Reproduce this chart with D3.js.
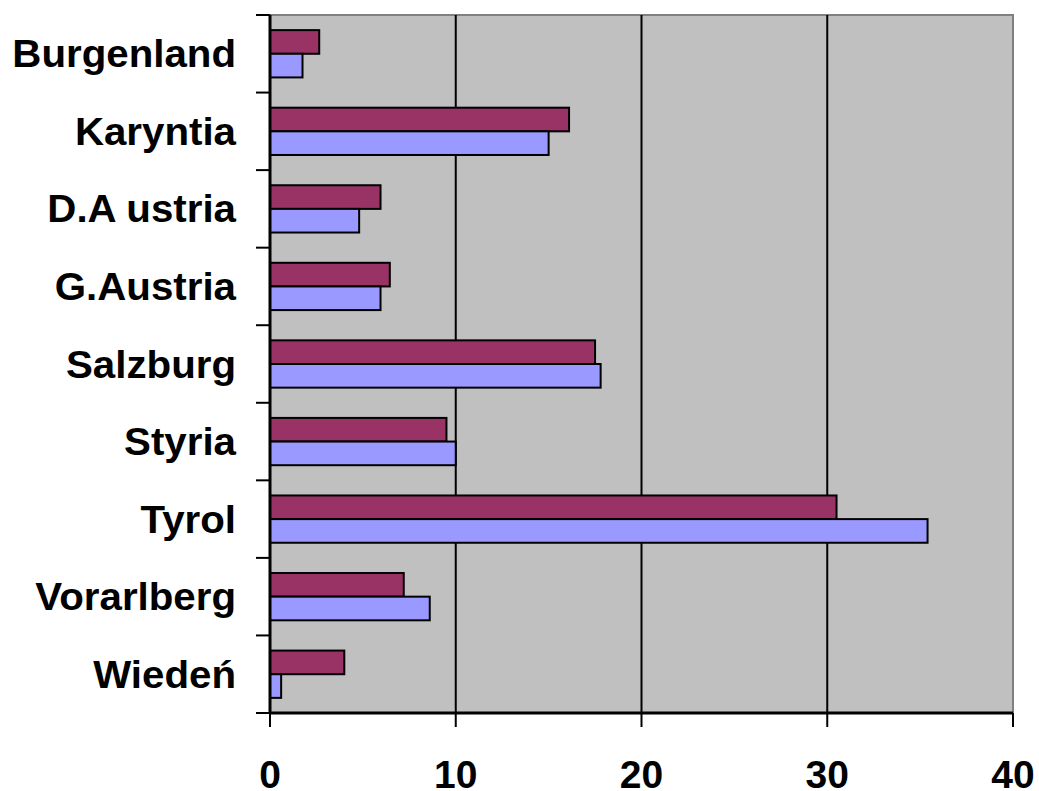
<!DOCTYPE html>
<html>
<head>
<meta charset="utf-8">
<script src="https://cdn.jsdelivr.net/npm/d3@7"></script>
<style>
  body { margin: 0; background: #fff; overflow: hidden; }
  svg { display: block; }
</style>
</head>
<body>
<div class="draw-area"></div>
<script>
// Chart data
const regions = ["Burgenland", "Karyntia", "D.A ustria", "G.Austria", "Salzburg", "Styria", "Tyrol", "Vorarlberg", "Wiedeń"];
const seriesA = [2.65, 16.1, 5.95, 6.45, 17.5, 9.5, 30.5, 7.2, 4.0];   // maroon, upper bar
const seriesB = [1.75, 15.0, 4.8, 5.95, 17.8, 10.0, 35.4, 8.6, 0.6];    // lavender, lower bar
const xTicks = [0, 10, 20, 30, 40];

const width = 1039, height = 791;
const plot = { left: 270, right: 1013, top: 15, bottom: 713 };
const labelRight = 236;

const svg = d3.select(".draw-area")
    .append("svg")
    .attr("width", width)
    .attr("height", height);

// Scales
const x = d3.scaleLinear().domain([0, 40]).range([plot.left, plot.right]);
const y = d3.scaleBand().domain(regions).range([plot.top, plot.bottom]);
const inner = d3.scaleBand().domain(["a", "b"]).range([0, y.bandwidth()]).paddingOuter(0.64).paddingInner(0);

// Plot background
svg.append("rect")
    .attr("x", plot.left).attr("y", plot.top)
    .attr("width", plot.right - plot.left).attr("height", plot.bottom - plot.top)
    .attr("fill", "#c0c0c0");

// Top and right border (gray)
svg.append("path")
    .attr("d", `M${plot.left},${plot.top}H${plot.right}V${plot.bottom}`)
    .attr("fill", "none").attr("stroke", "#808080").attr("stroke-width", 2);

// Vertical gridlines
svg.append("g")
    .selectAll("line")
    .data(xTicks.filter(d => d > 0 && d < 40))
    .join("line")
    .attr("x1", d => x(d)).attr("x2", d => x(d))
    .attr("y1", plot.top).attr("y2", plot.bottom)
    .attr("stroke", "#000").attr("stroke-width", 2);

// Bars
const groups = svg.append("g")
    .selectAll("g")
    .data(regions.map((r, i) => ({ r, a: seriesA[i], b: seriesB[i] })))
    .join("g")
    .attr("transform", d => `translate(0,${y(d.r)})`);

groups.append("rect")
    .attr("x", x(0))
    .attr("y", inner("a"))
    .attr("width", d => x(d.a) - x(0))
    .attr("height", inner.bandwidth())
    .attr("fill", "#993366").attr("stroke", "#000").attr("stroke-width", 2);

groups.append("rect")
    .attr("x", x(0))
    .attr("y", inner("b"))
    .attr("width", d => x(d.b) - x(0))
    .attr("height", inner.bandwidth())
    .attr("fill", "#9999ff").attr("stroke", "#000").attr("stroke-width", 2);

// Y axis: ticks at band boundaries
const yAxis = svg.append("g");
yAxis.append("line")
    .attr("x1", plot.left).attr("x2", plot.left)
    .attr("y1", plot.top).attr("y2", plot.bottom)
    .attr("stroke", "#000").attr("stroke-width", 3);
yAxis.selectAll("line.tick")
    .data(regions.map(r => y(r)).concat([plot.bottom]))
    .join("line")
    .attr("class", "tick")
    .attr("x1", plot.left - 14).attr("x2", plot.left)
    .attr("y1", d => d).attr("y2", d => d)
    .attr("stroke", "#000").attr("stroke-width", 2);
// labels are a bit wider than the font, so stretch them horizontally
yAxis.selectAll("text")
    .data(regions)
    .join("text")
    .attr("transform", d => `translate(${labelRight},${y(d) + y.bandwidth() / 2 + 13.5}) scale(1.06,1)`)
    .attr("text-anchor", "end")
    .attr("font-family", "Liberation Sans, Arial, sans-serif")
    .attr("font-weight", "bold")
    .attr("font-size", 38)
    .text(d => d);

// X axis
const xAxis = svg.append("g");
xAxis.append("line")
    .attr("x1", plot.left).attr("x2", plot.right)
    .attr("y1", plot.bottom).attr("y2", plot.bottom)
    .attr("stroke", "#000").attr("stroke-width", 3);
xAxis.selectAll("line.tick")
    .data(xTicks)
    .join("line")
    .attr("class", "tick")
    .attr("x1", d => x(d)).attr("x2", d => x(d))
    .attr("y1", plot.bottom).attr("y2", plot.bottom + 14)
    .attr("stroke", "#000").attr("stroke-width", 2);
xAxis.selectAll("text")
    .data(xTicks)
    .join("text")
    .attr("x", d => x(d))
    .attr("y", 788)
    .attr("text-anchor", "middle")
    .attr("font-family", "Liberation Sans, Arial, sans-serif")
    .attr("font-weight", "bold")
    .attr("font-size", 39)
    .text(d => d);
</script>
</body>
</html>
